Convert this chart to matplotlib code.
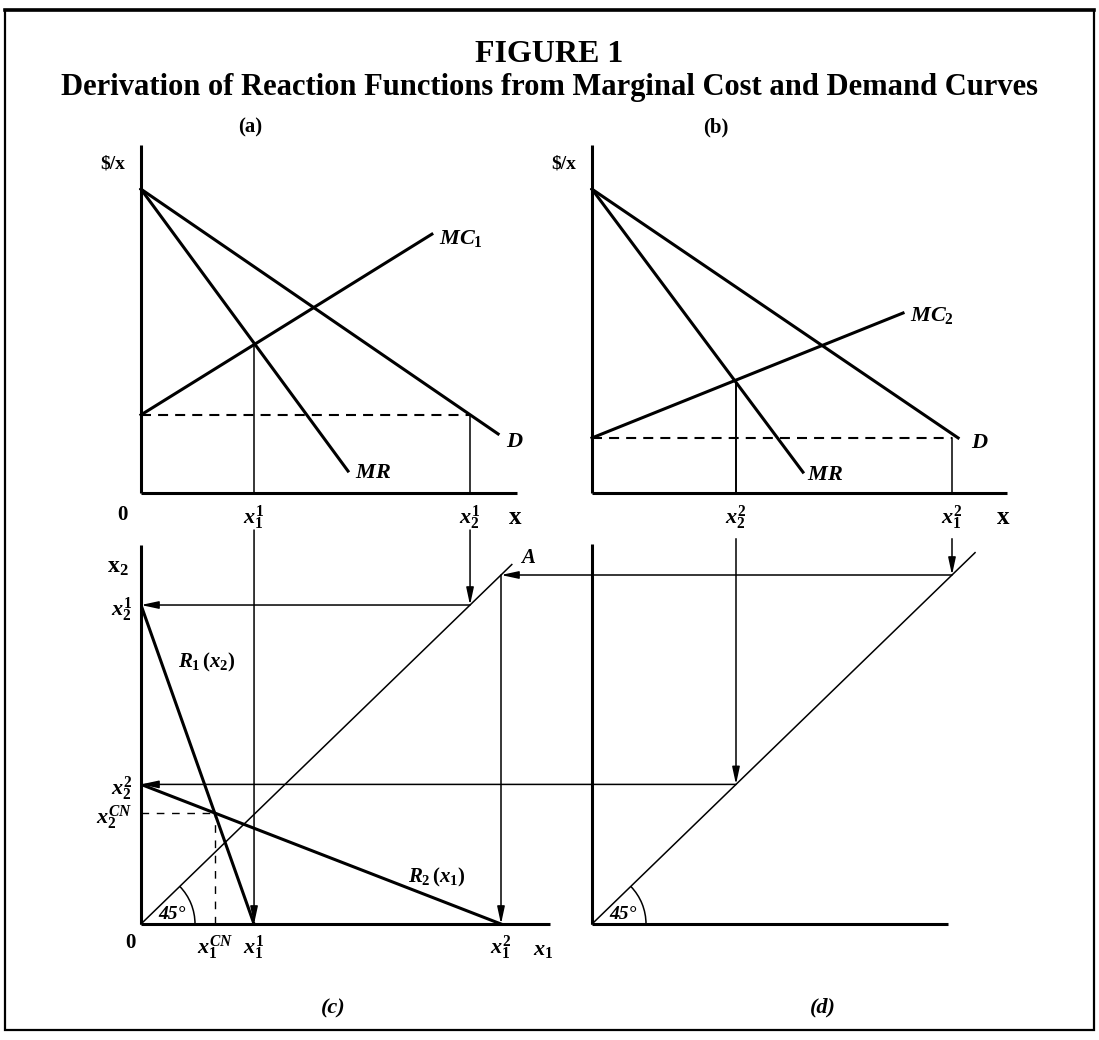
import matplotlib.pyplot as plt
from matplotlib.patches import Arc, ConnectionPatch, Rectangle

plt.rcParams['font.family'] = ['Liberation Serif', 'DejaVu Serif']
plt.rcParams['font.weight'] = 'bold'
plt.rcParams['mathtext.fontset'] = 'custom'
plt.rcParams['mathtext.rm'] = 'Liberation Serif:bold'
plt.rcParams['mathtext.it'] = 'Liberation Serif:italic:bold'
plt.rcParams['mathtext.bf'] = 'Liberation Serif:bold'

# panel (a): firm 1, price per unit against output
demand_a_x, demand_a_y = [0, 9.92], [8.44, 1.64]
mr_a_x, mr_a_y = [0, 5.75], [8.44, 0.61]
mc1_x, mc1_y = [0, 8.08], [2.17, 7.19]
x1_1, p1_opt = 3.14, 4.17      # firm 1 output when firm 2 produces nothing
x2_1 = 9.14                    # firm 2 output that shuts firm 1 out

# panel (b): firm 2
demand_b_x, demand_b_y = [0, 10.17], [8.44, 1.53]
mr_b_x, mr_b_y = [0, 5.86], [8.44, 0.58]
mc2_x, mc2_y = [0, 8.64], [1.53, 5.00]
x2_2, p2_opt = 4.00, 3.08
x1_2 = 10.0

# panels (c), (d): reaction functions and 45 degree mapping lines
x1_cn, x2_cn = 2.05, 3.17
diag_c, diag_d = 10.3, 10.64

# axis lengths (in units)
axis_a = (10.44, 9.67)
axis_b = (11.53, 9.67)
axis_c = (11.36, 10.86)
axis_d = (9.89, 10.90)

W, H = 1099, 1040
UX, UY_TOP, UY_BOT = 36.0, 36.0, 34.9   # pixels per unit

THICK, THIN = 2.2, 1.1
ARROW = '-|>,head_length=0.65,head_width=0.14'
TICK_SIZE = 16

fig = plt.figure(figsize=(W / 100, H / 100), dpi=100)


def add_panel(left, top, right, bottom, uy, lengths):
    ax = fig.add_axes([left / W, 1 - bottom / H, (right - left) / W, (bottom - top) / H])
    ax.set_xlim(0, (right - left) / UX)
    ax.set_ylim(0, (bottom - top) / uy)
    ax.patch.set_visible(False)
    ax.spines['top'].set_visible(False)
    ax.spines['right'].set_visible(False)
    for s in ('left', 'bottom'):
        ax.spines[s].set_linewidth(THICK)
        ax.spines[s].set_capstyle('butt')
    ax.spines['bottom'].set_bounds(0, lengths[0])
    ax.spines['left'].set_bounds(0, lengths[1])
    ax.tick_params(length=0, labelsize=TICK_SIZE, pad=7)
    ax.set_xticks([])
    ax.set_yticks([])
    return ax


def arrow(ax, start, end):
    ax.annotate('', xy=end, xytext=start,
                arrowprops=dict(arrowstyle=ARROW, lw=THIN, color='black',
                                shrinkA=0, shrinkB=0, mutation_scale=16),
                annotation_clip=False)


def label(ax, text, anchor, dx, dy, size=13, ha='center', style='normal'):
    ax.annotate(text, anchor, xytext=(dx, -dy), textcoords='offset pixels',
                ha=ha, va='center', fontsize=size, fontstyle=style,
                annotation_clip=False)


ax_a = add_panel(141, 140, 560, 493, UY_TOP, axis_a)
ax_b = add_panel(592, 140, 1040, 493, UY_TOP, axis_b)
ax_c = add_panel(141, 530, 560, 924, UY_BOT, axis_c)
ax_d = add_panel(592, 530, 1040, 924, UY_BOT, axis_d)

# ---- (a) ----
ax_a.plot(demand_a_x, demand_a_y, color='black', lw=THICK, clip_on=False)
ax_a.plot(mr_a_x, mr_a_y, color='black', lw=THICK, clip_on=False)
ax_a.plot(mc1_x, mc1_y, color='black', lw=THICK, clip_on=False)
ax_a.plot([0, x2_1], [mc1_y[0]] * 2, color='black', lw=1.5, dashes=(4.8, 3.4))
ax_a.plot([x1_1, x1_1], [0, p1_opt], color='black', lw=THIN)
ax_a.plot([x2_1, x2_1], [0, mc1_y[0]], color='black', lw=THIN)
ax_a.set_xticks([x1_1, x2_1], [r'$x_1^1$', r'$x_2^1$'])
label(ax_a, '0', (0, 0), -19, 22, size=15)
label(ax_a, 'x', (axis_a[0], 0), -2, 25, size=18)
label(ax_a, '$/x', (0, axis_a[1]), -28, 19, size=14)
label(ax_a, '$MC_1$', (mc1_x[1], mc1_y[1]), 7, 4, size=16, ha='left')
label(ax_a, '$D$', (demand_a_x[1], demand_a_y[1]), 17, 8, size=16)
label(ax_a, '$MR$', (mr_a_x[1], mr_a_y[1]), 7, 2, size=16, ha='left')

# ---- (b) ----
ax_b.plot(demand_b_x, demand_b_y, color='black', lw=THICK, clip_on=False)
ax_b.plot(mr_b_x, mr_b_y, color='black', lw=THICK, clip_on=False)
ax_b.plot(mc2_x, mc2_y, color='black', lw=THICK, clip_on=False)
ax_b.plot([0, x1_2], [mc2_y[0]] * 2, color='black', lw=1.5, dashes=(4.8, 3.4))
ax_b.plot([x2_2, x2_2], [0, p2_opt], color='black', lw=1.4)
ax_b.plot([x1_2, x1_2], [0, mc2_y[0]], color='black', lw=THIN)
ax_b.set_xticks([x2_2, x1_2], [r'$x_2^2$', r'$x_1^2$'])
label(ax_b, 'x', (axis_b[0], 0), -4, 25, size=18)
label(ax_b, '$/x', (0, axis_b[1]), -28, 19, size=14)
label(ax_b, '$MC_2$', (mc2_x[1], mc2_y[1]), 7, 2, size=16, ha='left')
label(ax_b, '$D$', (demand_b_x[1], demand_b_y[1]), 22, 5, size=16)
label(ax_b, '$MR$', (mr_b_x[1], mr_b_y[1]), 4, 3, size=16, ha='left')

# ---- (c) ----
top_c = ax_c.get_ylim()[1]
ax_c.plot([0, diag_c], [0, diag_c], color='black', lw=THIN, clip_on=False)
ax_c.plot([0, x1_1], [x2_1, 0], color='black', lw=THICK)
ax_c.plot([0, x1_2], [x2_2, 0], color='black', lw=THICK)
ax_c.plot([0, x1_cn], [x2_cn, x2_cn], color='black', lw=1.0, dashes=(5.5, 5.5))
ax_c.plot([x1_cn, x1_cn], [0, x2_cn], color='black', lw=1.0, dashes=(5.5, 5.5))
arrow(ax_c, (x1_1, top_c), (x1_1, 0))
arrow(ax_c, (x2_1, top_c), (x2_1, x2_1))
arrow(ax_c, (x2_1, x2_1), (0, x2_1))
arrow(ax_c, (x1_2, x1_2), (x1_2, 0))
ax_c.add_patch(Arc((0, 0), 2 * 54 / UX, 2 * 54 / UY_BOT, theta1=0, theta2=45, lw=THIN))
ax_c.set_xticks([x1_cn, x1_1, x1_2], [r'$x_1^{CN}$', r'$x_1^1$', r'$x_1^2$'])
ax_c.set_yticks([x2_cn, x2_2, x2_1], [r'$x_2^{CN}$', r'$x_2^2$', r'$x_2^1$'])
ax_c.tick_params(axis='y', pad=6)
label(ax_c, '0', (0, 0), -11, 19, size=15)
label(ax_c, r'$\mathrm{x}_2$', (0, axis_c[1]), -23, 23, size=17)
label(ax_c, '$x_1$', (axis_c[0], 0), -7, 26, size=16)
label(ax_c, '$A$', (diag_c, diag_c), 16, -7, size=15)
ax_c.text(1.83, 7.48, '$R_1\\,(x_2)$', fontsize=15, ha='center', va='center')
ax_c.text(8.22, 1.32, '$R_2\\,(x_1)$', fontsize=15, ha='center', va='center')
ax_c.text(0.86, 0.26, '45°', fontsize=14, fontstyle='italic', ha='center', va='center')

# ---- (d) ----
top_d = ax_d.get_ylim()[1] - 0.25
ax_d.plot([0, diag_d], [0, diag_d], color='black', lw=THIN, clip_on=False)
arrow(ax_d, (x2_2, top_d), (x2_2, x2_2))
arrow(ax_d, (x1_2, top_d), (x1_2, x1_2))
ax_d.add_patch(Arc((0, 0), 2 * 54 / UX, 2 * 54 / UY_BOT, theta1=0, theta2=45, lw=THIN))
ax_d.text(0.86, 0.26, '45°', fontsize=14, fontstyle='italic', ha='center', va='center')

# horizontal projections from (d) back into (c)
for y_d, x_c in [(x1_2, x1_2), (x2_2, 0)]:
    con = ConnectionPatch(xyA=(y_d, y_d), coordsA='data', axesA=ax_d,
                          xyB=(x_c, y_d), coordsB='data', axesB=ax_c,
                          arrowstyle=ARROW, lw=THIN, color='black',
                          shrinkA=0, shrinkB=0, mutation_scale=16)
    fig.add_artist(con)

# titles, panel captions and frame
fig.text(0.5, 1 - 55 / H, 'FIGURE 1', ha='center', va='center', fontsize=23)
fig.text(0.5, 1 - 87 / H, 'Derivation of Reaction Functions from Marginal Cost and Demand Curves',
         ha='center', va='center', fontsize=22)
fig.text(250 / W, 1 - 127 / H, '(a)', ha='center', va='center', fontsize=15)
fig.text(716 / W, 1 - 127 / H, '(b)', ha='center', va='center', fontsize=15)
fig.text(333 / W, 1 - 1008 / H, '(c)', ha='center', va='center', fontsize=16, fontstyle='italic')
fig.text(823 / W, 1 - 1007 / H, '(d)', ha='center', va='center', fontsize=16, fontstyle='italic')
fig.add_artist(Rectangle((5 / W, 1 - 1030 / H), 1089 / W, 1020 / H, transform=fig.transFigure,
                         fill=False, lw=1.6, color='black'))
fig.add_artist(plt.Line2D([5 / W, 1094 / W], [1 - 10 / H] * 2, transform=fig.transFigure,
                          lw=2.6, color='black'))

fig.savefig('out.png', dpi=100)
